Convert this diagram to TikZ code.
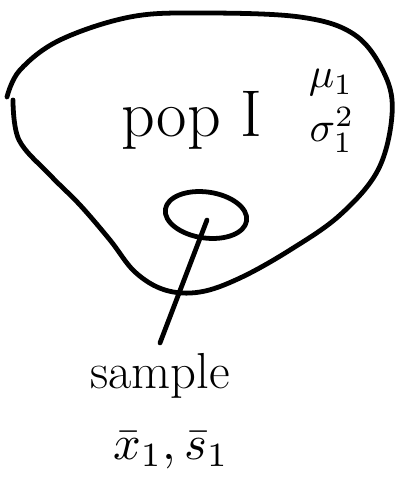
\documentclass[tikz,border=0pt]{standalone}
\usepackage{amsmath}
\usepackage{tikz}
\usetikzlibrary{positioning, shapes.geometric}

\begin{document}
\begin{tikzpicture}[x=0.025cm, y=-0.025cm, pen/.style={line width=3.4pt, line cap=round, line join=round}, big/.style={scale=3}]
            \useasboundingbox (0,0) rectangle (396,482);
            % population outline
            \draw[pen] plot[smooth, tension=0.6] coordinates {(13,100) (19,140) (50,175) (80,205) (110,240) (135,272) (165,290) (200,292) (240,278) (290,250) (340,215) (378,170) (392,115) (385,75) (355,35) (300,17) (200,13) (130,17) (60,40) (20,70) (7,97)};
            \node (pop) at (192,120) {\fontsize{47}{56}\selectfont pop I};
            \node[big] (mu) at (331,83) {$\mu_1$};
            \node[big] (sig) at (332,130) {$\sigma_1^2$};
            \node[pen, draw, ellipse, minimum width=2.05cm, minimum height=1.15cm, rotate=-8] (smp) at (206,215) {};
            \node (sample) at (160,376) {\fontsize{36}{42}\selectfont sample};
            \node[big, scale=1.15] (stats) at (171,450) {$\bar{x}_1, \bar{s}_1$};
            \draw[pen] ([shift={(1,5)}]smp.center) -- ([yshift=4pt]sample.north);
        \end{tikzpicture}
\end{document}
